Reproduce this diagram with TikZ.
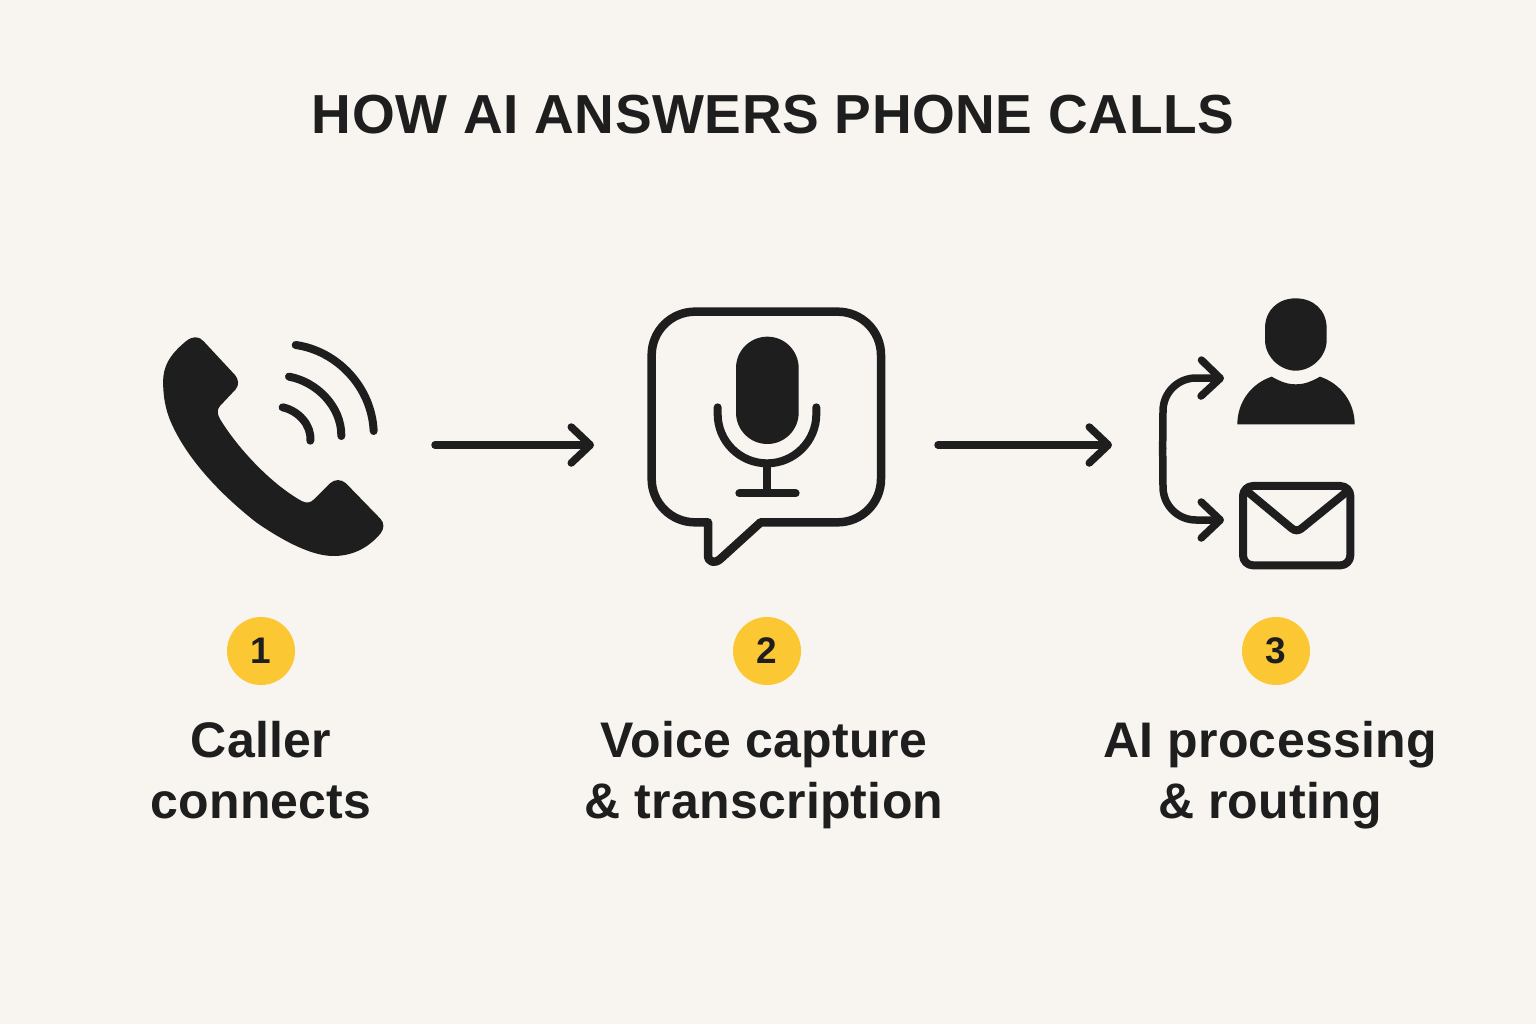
\documentclass[tikz,border=0pt]{standalone}
\usepackage{fontspec}
\setmainfont{Liberation Sans}
\newfontfamily\medfont[LetterSpace=0.5]{Liberation Sans Bold}
\newfontfamily\titlefont[LetterSpace=1]{Liberation Sans Bold}
\usetikzlibrary{arrows.meta}
\definecolor{paper}{HTML}{F8F5F0}
\definecolor{ink}{HTML}{1E1E1E}
\definecolor{badge}{HTML}{FBC733}
\tikzset{
  x=1pt,y=-1pt,
  icon/.style={draw=ink,line width=8pt,line cap=round,line join=round},
  flow/.style={draw=ink,line width=7.5pt,line cap=round,line join=round,-{Straight Barb[length=19pt,width=36pt,line width=7.5pt,round]}},
  numbadge/.style={circle,fill=badge,minimum size=68pt,inner sep=0pt,text=ink,font=\fontsize{37}{37}\selectfont\bfseries},
  caption/.style={text=ink,align=center,font=\fontsize{50}{61}\selectfont\medfont,inner sep=0pt},
  zoomA/.style={shift={(140,320)},x=0.33333pt,y=-0.33333pt},
  zoomB/.style={shift={(630,290)},x=0.33333pt,y=-0.33333pt},
  zoomC/.style={shift={(1140,285)},x=0.33333pt,y=-0.33333pt},
}
\begin{document}
\begin{tikzpicture}
\useasboundingbox (0,0) rectangle (1536,1024);
\fill[paper] (0,0) rectangle (1536,1024);
\node[text=ink,font=\fontsize{55}{60}\selectfont\titlefont,inner sep=0pt] (title) at (773,115) {HOW AI ANSWERS PHONE CALLS};

% phone
\begin{scope}[zoomA]
\fill[ink] (165,52) .. controls (178,52) and (186,58) .. (192,65)
  -- (285,165) .. controls (296,178) and (298,195) .. (287,208)
  -- (240,258) .. controls (231,268) and (231,282) .. (240,297)
  .. controls (290,380) and (390,490) .. (485,543)
  .. controls (500,551) and (512,548) .. (522,538)
  -- (570,490) .. controls (585,477) and (603,477) .. (618,490)
  -- (722,597) .. controls (733,610) and (733,625) .. (722,640)
  .. controls (680,690) and (630,708) .. (580,708)
  .. controls (520,708) and (440,670) .. (350,608)
  .. controls (250,530) and (140,420) .. (90,300)
  .. controls (70,250) and (68,200) .. (70,170)
  .. controls (75,125) and (100,95) .. (140,62)
  .. controls (150,55) and (157,52) .. (165,52) -- cycle;
\draw[icon] (428,262) .. controls (475,272) and (515,315) .. (511,362);
\draw[icon] (447,170) .. controls (530,185) and (605,260) .. (604,348);
\draw[icon] (467,75) .. controls (590,92) and (695,200) .. (701,333);
\end{scope}

% bubble and microphone
\begin{scope}[zoomB]
\draw[draw=ink,line width=8.5pt,line join=round,line cap=round]
  (195,65) -- (623,65) arc[start angle=-90,end angle=0,radius=130] -- (753,567)
  arc[start angle=0,end angle=90,radius=130] -- (392,697) -- (272,806)
  .. controls (255,822) and (234,818) .. (234,795) -- (234,697) -- (195,697)
  arc[start angle=90,end angle=180,radius=130] -- (65,195)
  arc[start angle=180,end angle=270,radius=130] -- cycle;
\fill[ink] (318,234) arc[start angle=180,end angle=360,radius=94] -- (506,368)
  arc[start angle=0,end angle=180,radius=94] -- cycle;
\draw[draw=ink,line width=8pt,line cap=round,line join=round]
  (263,352) -- (263,372) arc[start angle=180,end angle=0,radius=148] -- (559,352);
\draw[draw=ink,line width=8pt] (411,520) -- (411,610);
\draw[draw=ink,line width=8pt,line cap=round] (328,610) -- (497,610);
\end{scope}

% person, envelope
\begin{scope}[zoomC]
\fill[ink] (375,130) .. controls (375,75) and (415,40) .. (467,40)
  .. controls (520,40) and (560,75) .. (560,130)
  -- (560,165) .. controls (560,215) and (515,257) .. (467,257)
  .. controls (420,257) and (375,215) .. (375,165) -- cycle;
\fill[ink] (292,418) .. controls (292,350) and (335,295) .. (395,275)
  .. controls (425,292) and (445,298) .. (467,298)
  .. controls (490,298) and (510,292) .. (540,275)
  .. controls (600,295) and (644,350) .. (644,418) -- cycle;
\draw[icon] (309,633) arc[start angle=180,end angle=270,radius=30] -- (601,603)
  arc[start angle=-90,end angle=0,radius=30] -- (631,811)
  arc[start angle=0,end angle=90,radius=30] -- (339,841)
  arc[start angle=90,end angle=180,radius=30] -- cycle;
\draw[icon] (325,622) -- (455,730) .. controls (465,738) and (475,738) .. (485,730) -- (618,622);
\coordinate (fork-top) at (252,280);
\coordinate (fork-bottom) at (252,705);
\coordinate (fork-start) at (68,490);
\end{scope}

% connectors
\coordinate (phone-out) at (435,445);
\coordinate (bubble-in) at (594,445);
\coordinate (bubble-out) at (938,445);
\coordinate (route-in) at (1112,445);
\draw[flow] (phone-out) -- (bubble-in);
\draw[flow] (bubble-out) -- (route-in);
\draw[flow] (fork-start) -- (1163,411) arc[start angle=180,end angle=270,radius=33] -- (fork-top);
\draw[flow] (fork-start) -- (1163,487) arc[start angle=180,end angle=90,radius=33] -- (fork-bottom);

% badges
\node[numbadge] (n1) at (261,651) {1};
\node[numbadge] (n2) at (767,651) {2};
\node[numbadge] (n3) at (1276,651) {3};

% captions
\node[caption,anchor=base] (c1) at (261,818) {Caller\\connects};
\node[caption,anchor=base] (c2) at (764,818) {Voice capture\\\& transcription};
\node[caption,anchor=base] (c3) at (1270,818) {AI processing\\\& routing};
\end{tikzpicture}
\end{document}
